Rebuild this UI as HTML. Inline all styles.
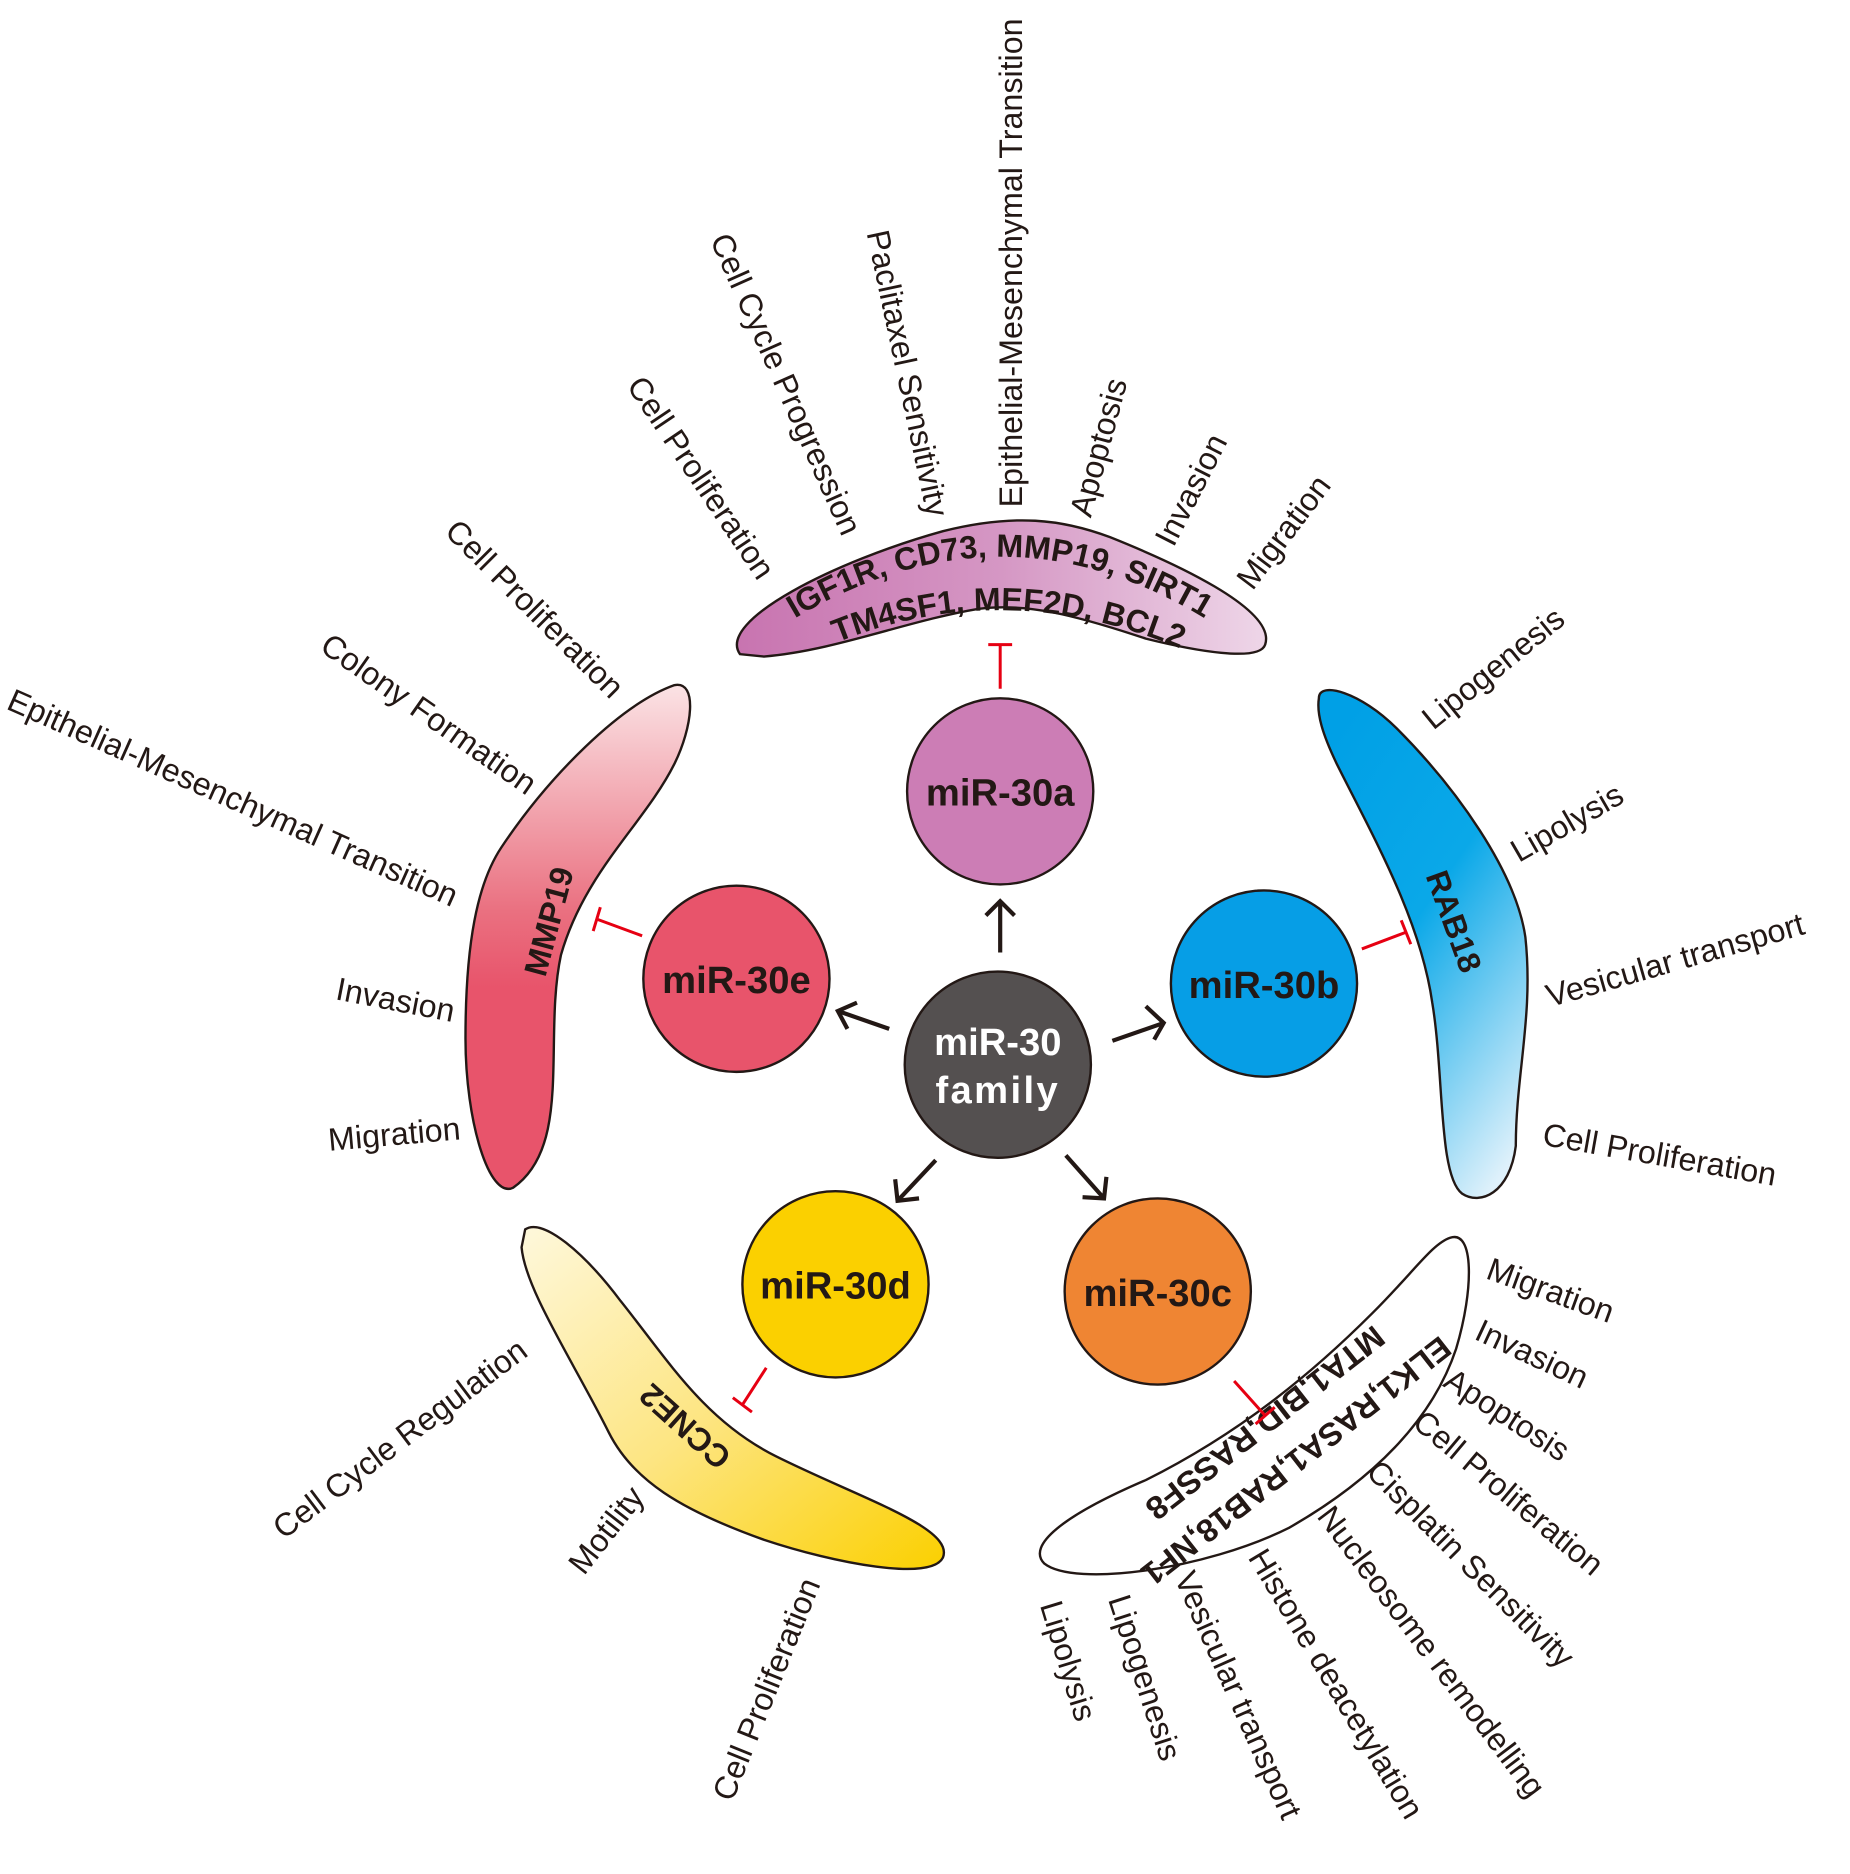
<!DOCTYPE html>
<html><head><meta charset="utf-8"><style>
html,body{margin:0;padding:0;background:#fff;}
svg{display:block;}
text{font-family:"Liberation Sans",Arial,sans-serif;fill:#231815;}
.l{font-size:27px;dominant-baseline:central;}
.b{font-weight:bold;}
</style></head><body>
<svg width="1850" height="1874" viewBox="0 0 1550 1570" xmlns="http://www.w3.org/2000/svg">
<defs>
<linearGradient id="gp" x1="0" y1="0" x2="1" y2="0"><stop offset="0" stop-color="#c874b0"/><stop offset="0.5" stop-color="#d597c4"/><stop offset="1" stop-color="#eed6e8"/></linearGradient>
<linearGradient id="gr" x1="0" y1="0" x2="0" y2="1"><stop offset="0" stop-color="#fbe3e5"/><stop offset="0.45" stop-color="#ea7080"/><stop offset="0.6" stop-color="#e8546b"/><stop offset="1" stop-color="#e8546b"/></linearGradient>
<linearGradient id="gb" x1="0.2" y1="0" x2="0.8" y2="1"><stop offset="0" stop-color="#00a0e6"/><stop offset="0.45" stop-color="#0aa8e8"/><stop offset="1" stop-color="#dff1fb"/></linearGradient>
<linearGradient id="gy" x1="0" y1="0" x2="1" y2="1"><stop offset="0" stop-color="#fef8dc"/><stop offset="0.5" stop-color="#fde581"/><stop offset="1" stop-color="#fbd000"/></linearGradient>
<path id="p1" d="M 650 528 Q 840 405 1025 528"/>
<path id="p2" d="M 688 544 Q 840 476 1002 549"/>
</defs>

<path d="M 620 548 C 600 520, 700 470, 790 445 C 850 430, 890 435, 930 450 C 980 470, 1070 510, 1060 540 C 1055 555, 1000 545, 960 535 C 900 515, 860 505, 820 510 C 760 520, 700 545, 640 550 Z" fill="url(#gp)" stroke="#231815" stroke-width="2"/>
<path d="M 565 574 C 585 570, 580 610, 565 640 C 540 690, 490 730, 470 800 C 455 870, 480 960, 430 995 C 410 1005, 390 940, 390 870 C 390 790, 400 740, 420 710 C 460 650, 520 590, 565 574 Z" fill="url(#gr)" stroke="#231815" stroke-width="2"/>
<path d="M 1105 585 C 1105 570, 1140 580, 1170 610 C 1220 660, 1270 730, 1278 785 C 1285 850, 1270 900, 1270 960 C 1265 1000, 1240 1010, 1225 1000 C 1205 985, 1210 900, 1200 840 C 1190 770, 1150 700, 1120 640 C 1108 615, 1103 598, 1105 585 Z" fill="url(#gb)" stroke="#231815" stroke-width="2"/>
<path d="M 440 1030 C 455 1020, 490 1050, 520 1090 C 560 1140, 590 1190, 650 1220 C 720 1255, 800 1280, 790 1305 C 780 1325, 700 1310, 640 1290 C 570 1265, 530 1240, 510 1200 C 480 1140, 440 1080, 437 1045 Z" fill="url(#gy)" stroke="#231815" stroke-width="2"/>
<path d="M 1215 1037 C 1235 1030, 1235 1080, 1220 1130 C 1200 1190, 1150 1240, 1080 1280 C 1010 1315, 900 1330, 875 1310 C 860 1295, 890 1270, 960 1240 C 1040 1200, 1100 1150, 1150 1100 C 1185 1065, 1200 1042, 1215 1037 Z" fill="#fff" stroke="#231815" stroke-width="2"/>

<text class="b" font-size="27" text-anchor="middle"><textPath href="#p1" startOffset="50%">IGF1R, CD73, MMP19, SIRT1</textPath></text>
<text class="b" font-size="27" text-anchor="middle"><textPath href="#p2" startOffset="50%">TM4SF1, MEF2D, BCL2</textPath></text>
<text class="l b" font-size="27" text-anchor="middle" transform="translate(460,772) rotate(-75)">MMP19</text>
<text class="l b" text-anchor="middle" transform="translate(1218,772) rotate(70)">RAB18</text>
<text class="l b" text-anchor="middle" transform="translate(574,1195) rotate(222)">CCNE2</text>
<text class="l b" text-anchor="middle" transform="translate(1086,1224) rotate(142)" textLength="320" lengthAdjust="spacingAndGlyphs">ELK1,RASA1,RAB18,NF1</text>
<text class="l b" text-anchor="middle" transform="translate(1060,1192) rotate(142)" textLength="245" lengthAdjust="spacingAndGlyphs">MTA1,BID,RASSF8</text>

<g stroke="#231815" stroke-width="3.5" fill="none">
<line x1="838" y1="798" x2="838" y2="756"/><polyline points="826,767 838,755 850,767"/>
<line x1="745" y1="862" x2="702" y2="847"/><polyline points="718,840 702,847 710,862"/>
<line x1="932" y1="872" x2="975" y2="857"/><polyline points="960,843 975,857 967,871"/>
<line x1="784" y1="972" x2="752" y2="1006"/><polyline points="750,988 752,1006 770,1004"/>
<line x1="893" y1="968" x2="925" y2="1004"/><polyline points="907,1003 925,1004 927,986"/>
</g>
<g stroke="#e60012" stroke-width="2.5" fill="none">
<line x1="838" y1="577" x2="838" y2="540"/><line x1="828" y1="540" x2="848" y2="540"/>
<line x1="538" y1="784" x2="500" y2="770"/><line x1="503" y1="760" x2="497" y2="780"/>
<line x1="1141" y1="795" x2="1178" y2="781"/><line x1="1174" y1="771" x2="1182" y2="791"/>
<line x1="642" y1="1146" x2="622" y2="1177"/><line x1="614" y1="1171" x2="630" y2="1183"/>
<line x1="1034" y1="1157" x2="1060" y2="1186"/><line x1="1052" y1="1193" x2="1068" y2="1179"/>
</g>

<g stroke="#231815" stroke-width="2">
<circle cx="838" cy="663" r="78" fill="#cc7db5"/>
<circle cx="617" cy="820" r="78" fill="#e8546b"/>
<circle cx="1059" cy="824" r="78" fill="#069ee6"/>
<circle cx="700" cy="1076" r="78" fill="#fbd000"/>
<circle cx="970" cy="1082" r="78" fill="#ef8533"/>
<circle cx="836" cy="892" r="78" fill="#545050"/>
</g>
<g class="b" font-size="32" text-anchor="middle">
<text x="838" y="675">miR-30a</text>
<text x="617" y="832">miR-30e</text>
<text x="1059" y="836">miR-30b</text>
<text x="700" y="1088">miR-30d</text>
<text x="970" y="1094">miR-30c</text>
<text x="836" y="884" style="fill:#fff">miR-30</text>
<text x="836" y="924" style="fill:#fff;letter-spacing:2px">family</text>
</g>

<g class="l">
<text transform="translate(847,425) rotate(-90)">Epithelial-Mesenchymal Transition</text>
<text transform="translate(905,432) rotate(-75)">Apoptosis</text>
<text transform="translate(975,455) rotate(-63)">Invasion</text>
<text transform="translate(1042,490) rotate(-53)">Migration</text>
<text transform="translate(735,193) rotate(78)">Paclitaxel Sensitivity</text>
<text transform="translate(603,197) rotate(66)">Cell Cycle Progression</text>
<text transform="translate(532,318) rotate(56)">Cell Proliferation</text>

<text transform="translate(378,440) rotate(45)">Cell Proliferation</text>
<text transform="translate(272,537) rotate(35)">Colony Formation</text>
<text transform="translate(8,585) rotate(24)">Epithelial-Mesenchymal Transition</text>
<text transform="translate(282,828) rotate(11)">Invasion</text>
<text transform="translate(275,955) rotate(-5)">Migration</text>

<text transform="translate(1195,605) rotate(-39)">Lipogenesis</text>
<text transform="translate(1268,715) rotate(-30)">Lipolysis</text>
<text transform="translate(1296,835) rotate(-16)">Vesicular transport</text>
<text transform="translate(1293,950) rotate(10)">Cell Proliferation</text>

<text transform="translate(232,1283) rotate(-37)">Cell Cycle Regulation</text>
<text transform="translate(482,1315) rotate(-52)">Motility</text>
<text transform="translate(605,1507) rotate(-68)">Cell Proliferation</text>

<text transform="translate(1247,1062) rotate(20)">Migration</text>
<text transform="translate(1238,1113) rotate(25)">Invasion</text>
<text transform="translate(1213,1153) rotate(33)">Apoptosis</text>
<text transform="translate(1188,1187) rotate(40)">Cell Proliferation</text>
<text transform="translate(1150,1228) rotate(45)">Cisplatin Sensitivity</text>
<text transform="translate(1110,1265) rotate(53)">Nucleosome remodelling</text>
<text transform="translate(1053,1300) rotate(59)">Histone deacetylation</text>
<text transform="translate(992,1318) rotate(66)">Vesicular transport</text>
<text transform="translate(937,1337) rotate(72)">Lipogenesis</text>
<text transform="translate(880,1342) rotate(73)">Lipolysis</text>
</g>
</svg>
</body></html>
